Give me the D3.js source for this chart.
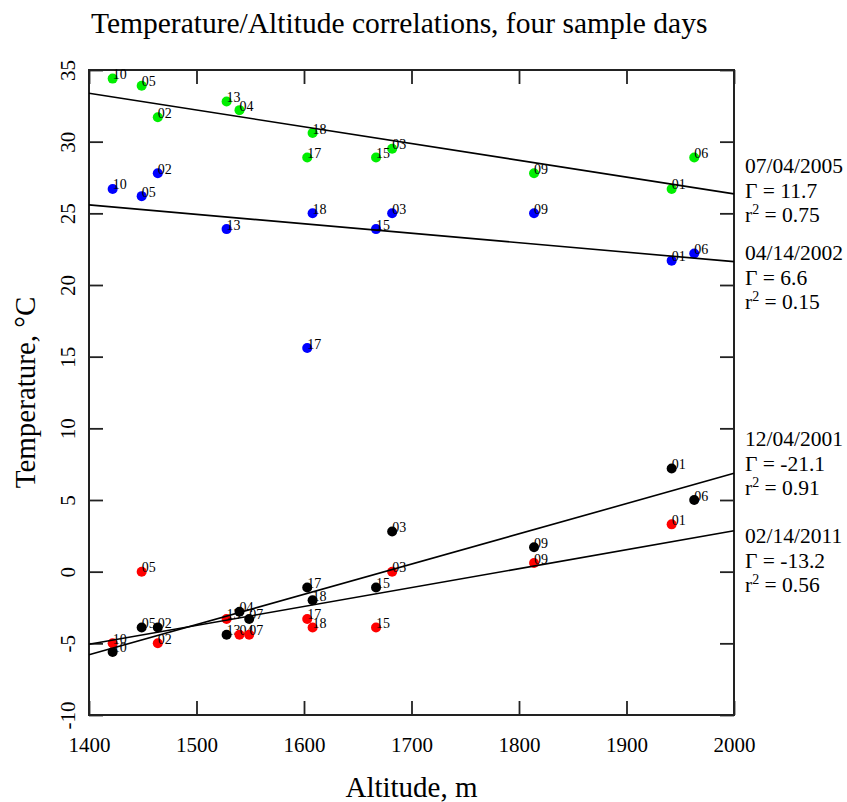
<!DOCTYPE html>
<html>
<head>
<meta charset="utf-8">
<script src="https://cdn.jsdelivr.net/npm/d3@7"></script>
<style>
  body { margin: 0; background: #fff; }
  text { font-family: "Liberation Serif", "Times New Roman", serif; fill: #000; }
</style>
</head>
<body>
<svg id="chart" width="847" height="802"></svg>
<script>
// stations and their altitudes (m)
const stations  = ['01', '02', '03', '04', '05', '06', '07', '09', '10', '13', '15', '17', '18'];
const altitudes = [1942, 1464, 1682, 1540, 1449, 1963, 1549, 1814, 1422, 1528, 1667, 1603, 1608];

// temperatures per sample day, same order as stations (null = no reading)
const temps20011204 = [7.2, -3.9, 2.8, -2.8, -3.9, 5.0, -3.3, 1.7, -5.6, -4.4, -1.1, -1.1, -2.0];
const temps20020414 = [21.7, 27.8, 25.0, null, 26.2, 22.2, null, 25.0, 26.7, 23.9, 23.9, 15.6, 25.0];
const temps20050704 = [26.7, 31.7, 29.5, 32.2, 33.9, 28.9, null, 27.8, 34.4, 32.8, 28.9, 28.9, 30.6];
const temps20110214 = [3.3, -5.0, 0.0, -4.4, 0.0, null, -4.4, 0.6, -5.0, -3.3, -3.9, -3.3, -3.9];

const days = ['12/04/2001', '04/14/2002', '07/04/2005', '02/14/2011'];
const dayTemps = [temps20011204, temps20020414, temps20050704, temps20110214];
const dayColors = ['#000000', '#0000ff', '#00ee00', '#ff0000'];

// fitted lines: lapse rate (C/km), r squared, fitted temperature at 1400 m
const gammas = [-21.1, 6.6, 11.7, -13.2];
const rSquared = [0.91, 0.15, 0.75, 0.56];
const fitAt1400 = [-5.8, 25.59, 33.38, -5.07];
// where the note beside each line starts (temperature units)
const noteTemps = [8.77, 21.75, 27.8, 2.0];

const xTicks = d3.range(1400, 2001, 100);
const yTicks = d3.range(-10, 36, 5);

const svg = d3.select('#chart');
const plotL = 89, plotR = 734, plotT = 70, plotB = 715;
const serif = '"Liberation Serif", "Times New Roman", serif';

const x = d3.scaleLinear().domain([1400, 2000]).range([plotL, plotR]);
const y = d3.scaleLinear().domain([-10, 35]).range([plotB, plotT]);

// title
svg.append('text')
  .attr('x', 91).attr('y', 33)
  .style('font-size', '29.5px')
  .text('Temperature/Altitude correlations, four sample days');

// axes, ticks pointing inward
const styleAxis = g => {
  g.attr('font-family', serif);
  g.select('.domain').remove();
  g.selectAll('.tick line').attr('stroke', '#222').attr('stroke-width', 1.8);
  g.selectAll('.tick text')
    .style('font-family', serif)
    .style('font-size', '21px')
    .attr('fill', '#000');
};
const plain = d => String(d);

svg.append('g')
  .attr('transform', `translate(0,${plotB})`)
  .call(d3.axisBottom(x).tickValues(xTicks).tickFormat(plain)
    .tickSizeInner(-14).tickSizeOuter(0).tickPadding(22))
  .call(styleAxis);

svg.append('g')
  .attr('transform', `translate(0,${plotT})`)
  .call(d3.axisTop(x).tickValues(xTicks).tickSizeInner(-14).tickSizeOuter(0).tickFormat(''))
  .call(styleAxis);

svg.append('g')
  .attr('transform', `translate(${plotL},0)`)
  .call(d3.axisLeft(y).tickValues(yTicks).tickFormat(plain).tickSizeInner(-14).tickSizeOuter(0))
  .call(styleAxis)
  .call(g => g.selectAll('.tick text')
    .attr('x', null).attr('dy', null)
    .attr('text-anchor', 'middle')
    .attr('transform', 'translate(-14,0) rotate(-90)'));

svg.append('g')
  .attr('transform', `translate(${plotR},0)`)
  .call(d3.axisRight(y).tickValues(yTicks).tickSizeInner(-14).tickSizeOuter(0).tickFormat(''))
  .call(styleAxis);

// frame
svg.append('rect')
  .attr('x', plotL).attr('y', plotT)
  .attr('width', plotR - plotL).attr('height', plotB - plotT)
  .attr('fill', 'none').attr('stroke', '#222').attr('stroke-width', 2);

// axis titles
svg.append('text')
  .attr('x', (plotL + plotR) / 2).attr('y', 797)
  .attr('text-anchor', 'middle')
  .style('font-size', '29px')
  .text('Altitude, m');

svg.append('text')
  .attr('transform', `translate(35,${(plotT + plotB) / 2}) rotate(-90)`)
  .attr('text-anchor', 'middle')
  .style('font-size', '29px')
  .text('Temperature, °C');

// points with station labels
days.forEach((day, i) => {
  const pts = stations.map((s, j) => ({ station: s, alt: altitudes[j], temp: dayTemps[i][j] }))
    .filter(d => d.temp !== null);
  const g = svg.append('g').attr('class', 'day');
  const item = g.selectAll('g.pt').data(pts).enter().append('g').attr('class', 'pt');
  item.append('circle')
    .attr('cx', d => x(d.alt)).attr('cy', d => y(d.temp))
    .attr('r', 5)
    .attr('fill', dayColors[i]);
  item.append('text')
    .attr('x', d => x(d.alt)).attr('y', d => y(d.temp) + 0.5)
    .style('font-size', '14px')
    .text(d => d.station);
});

// regression lines
const line = d3.line().x(d => x(d[0])).y(d => y(d[1]));
days.forEach((day, i) => {
  const fit = [[1400, fitAt1400[i]], [2000, fitAt1400[i] - gammas[i] * 0.6]];
  svg.append('path')
    .attr('d', line(fit))
    .attr('fill', 'none').attr('stroke', '#000').attr('stroke-width', 1.6);
});

// notes beside the lines
days.forEach((day, i) => {
  const y0 = y(noteTemps[i]);
  const note = svg.append('g').style('font-size', '21.5px');
  note.append('text').attr('x', 745).attr('y', y0).text(day);
  note.append('text').attr('x', 745).attr('y', y0 + 25)
    .text('\u0393 = ' + gammas[i].toFixed(1));
  const r = note.append('text').attr('x', 745).attr('y', y0 + 49);
  r.append('tspan').text('r');
  r.append('tspan').attr('dy', -8).style('font-size', '14px').text('2');
  r.append('tspan').attr('dy', 8).text(' = ' + rSquared[i].toFixed(2));
});
</script>
</body>
</html>
